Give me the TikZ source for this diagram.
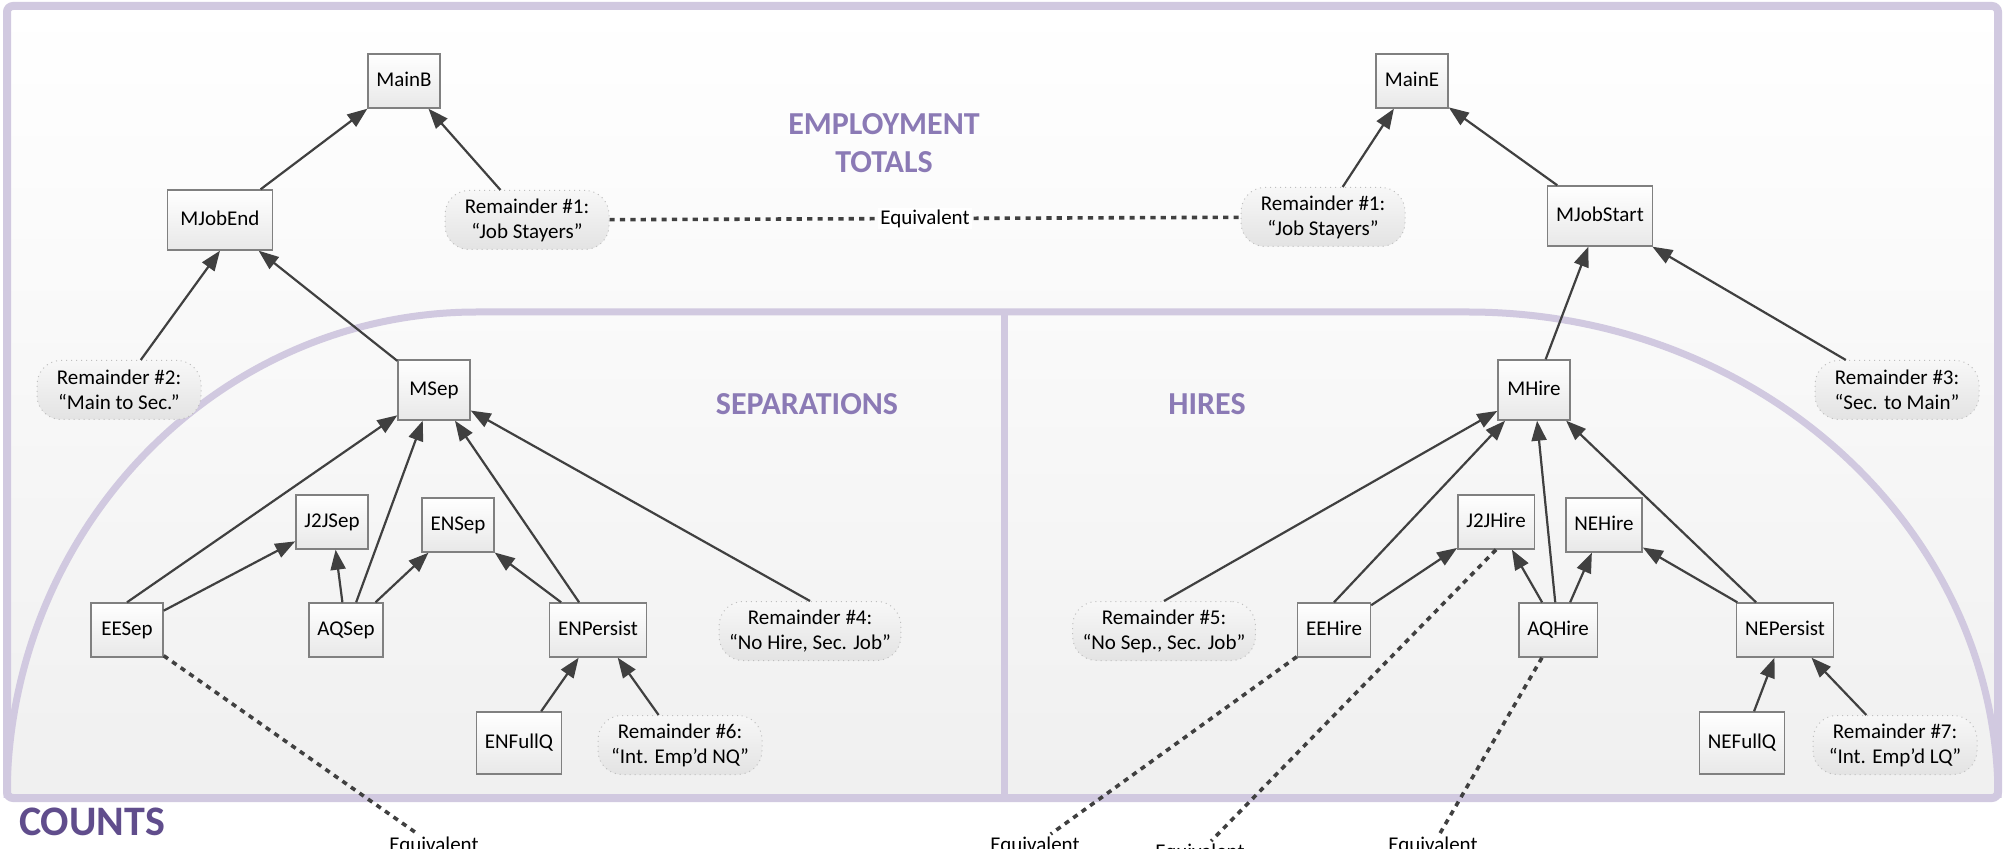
\documentclass[tikz,border=0pt]{standalone}
\usepackage{fontspec}
\setmainfont{Carlito}
\usetikzlibrary{arrows.meta}
\definecolor{framelav}{RGB}{209,201,224}
\definecolor{titlelav}{RGB}{139,122,181}
\definecolor{countpurple}{RGB}{96,77,140}
\definecolor{arrowgray}{RGB}{64,64,64}
\definecolor{boxgray}{RGB}{128,128,128}
\begin{document}
\begin{tikzpicture}[x=0.5pt, y=-0.5pt, >={Triangle[length=10pt,width=7.5pt]},
	font=\fontsize{10.5}{12.5}\selectfont,
	block/.style={draw=boxgray, line width=0.7pt, top color=white, bottom color=black!9, minimum width=36pt, minimum height=27pt, inner xsep=4.25pt, text height=8pt, text depth=2.5pt},
	remnode/.style={draw=black!25, dotted, line width=0.5pt, rounded corners=12pt, top color=black!3, bottom color=black!11, minimum width=82pt, minimum height=29.5pt, inner xsep=5pt, align=center},
	link/.style={->, draw=arrowgray, line width=1.1pt},
	equiv/.style={draw=arrowgray, line width=1.8pt, dash pattern=on 2.6pt off 2.6pt},
	sectitle/.style={text=titlelav, font=\fontsize{16}{19}\selectfont\bfseries, align=center}]
	\useasboundingbox (0,0) rectangle (2007,849);
	\fill[white] (0,0) rectangle (2007,849);
	\shade[top color=white, bottom color=black!6] (7,6) rectangle (1998,798);
	\shade[top color=black!2, bottom color=black!6] (7,798) .. controls (7,530) and (217,312) .. (477,312) -- (1468,312) .. controls (1761,312) and (1998,530) .. (1998,798) -- cycle;
	\draw[framelav, line width=3.5pt] (7,798) .. controls (7,530) and (217,312) .. (477,312) -- (1468,312) .. controls (1761,312) and (1998,530) .. (1998,798);
	\draw[framelav, line width=3.5pt] (1004,312) -- (1004,798);
	\draw[framelav, line width=4pt, rounded corners=3pt] (7,6) rectangle (1998,798);
	\node[sectitle] (EmpTotals) at (884,143) {EMPLOYMENT\\TOTALS};
	\node[sectitle] (SepTitle) at (807,404) {SEPARATIONS};
	\node[sectitle] (HireTitle) at (1207,404) {HIRES};
	\node[text=countpurple, font=\fontsize{21}{25}\selectfont\bfseries] (Counts) at (92,822) {COUNTS};
	\node[block] (MainB) at (404,81) {MainB};
	\node[block] (MainE) at (1412,81) {MainE};
	\node[block, minimum width=52.5pt, minimum height=30pt] (MJobEnd) at (220,220) {MJobEnd};
	\node[block, minimum width=52.5pt, minimum height=30pt] (MJobStart) at (1600,216) {MJobStart};
	\node[remnode] (R1) at (527,220) {Remainder \#1:\\“Job Stayers”};
	\node[remnode] (R1b) at (1323,217) {Remainder \#1:\\“Job Stayers”};
	\node[remnode] (R2) at (119,390) {Remainder \#2:\\“Main to Sec.”};
	\node[remnode] (R3) at (1897,390) {Remainder \#3:\\“Sec. to Main”};
	\node[block, minimum height=30pt] (MSep) at (434,390) {MSep};
	\node[block, minimum height=30pt] (MHire) at (1534,390) {MHire};
	\node[block] (J2JSep) at (332,522) {J2JSep};
	\node[block] (ENSep) at (458,525) {ENSep};
	\node[block] (J2JHire) at (1496,522) {J2JHire};
	\node[block] (NEHire) at (1604,525) {NEHire};
	\node[block] (EESep) at (127,630) {EESep};
	\node[block] (AQSep) at (346,630) {AQSep};
	\node[block] (ENPersist) at (598,630) {ENPersist};
	\node[remnode] (R4) at (810,631) {Remainder \#4:\\“No Hire, Sec. Job”};
	\node[remnode] (R5) at (1164,631) {Remainder \#5:\\“No Sep., Sec. Job”};
	\node[block] (EEHire) at (1334,630) {EEHire};
	\node[block] (AQHire) at (1558,630) {AQHire};
	\node[block] (NEPersist) at (1785,630) {NEPersist};
	\node[block, minimum height=31pt] (ENFullQ) at (519,743) {ENFullQ};
	\node[remnode] (R6) at (680,745) {Remainder \#6:\\“Int. Emp’d NQ”};
	\node[block, minimum height=31pt] (NEFullQ) at (1742,743) {NEFullQ};
	\node[remnode] (R7) at (1895,745) {Remainder \#7:\\“Int. Emp’d LQ”};
	\node[anchor=base, inner sep=1pt] (Eq1) at (434,851) {Equivalent};
	\node[anchor=base, inner sep=1pt] (Eq2) at (1035,851) {Equivalent};
	\node[anchor=base, inner sep=1pt] (Eq3) at (1200,858) {Equivalent};
	\node[anchor=base, inner sep=1pt] (Eq4) at (1433,851) {Equivalent};
	\draw[equiv] (R1) -- node[fill=white, inner sep=1pt, solid] (EqTop) {Equivalent} (R1b);
	\foreach \a/\b in {EESep/Eq1, EEHire/Eq2, J2JHire.south/Eq3, AQHire/Eq4}\draw[equiv] (\a) -- (\b);
	\foreach \a/\b in {MJobEnd/MainB, R1/MainB, MJobStart/MainE, R1b/MainE, R2/MJobEnd.south, MSep/MJobEnd, MHire/MJobStart, R3/MJobStart}\draw[link] (\a) -- (\b);
	\foreach \a/\b in {EESep.north/MSep, EESep/J2JSep, AQSep/J2JSep, AQSep/MSep, AQSep/ENSep, ENPersist/ENSep, ENPersist/MSep, R4.north/MSep, ENFullQ/ENPersist, R6/ENPersist}\draw[link] (\a) -- (\b);
	\foreach \a/\b in {R5.north/MHire, EEHire.north/MHire, EEHire/J2JHire, AQHire/J2JHire, AQHire/MHire, AQHire/NEHire, NEPersist/NEHire, NEPersist/MHire, NEFullQ/NEPersist, R7/NEPersist}\draw[link] (\a) -- (\b);
\end{tikzpicture}
\end{document}
